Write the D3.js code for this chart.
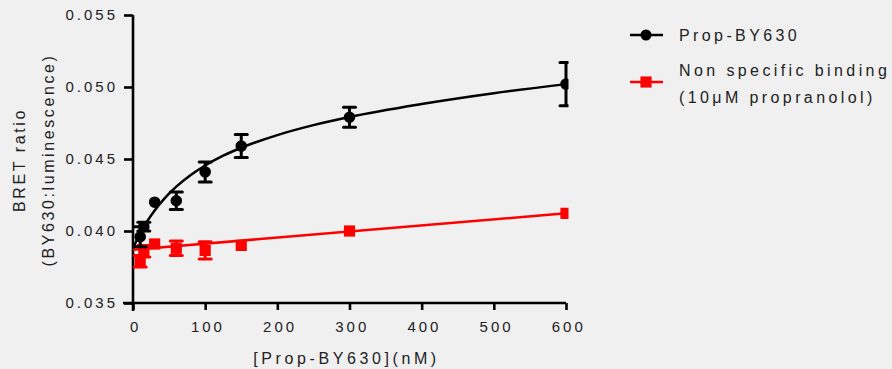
<!DOCTYPE html>
<html>
<head>
<meta charset="utf-8">
<script src="https://cdn.jsdelivr.net/npm/d3@7"></script>
<style>
  body { margin: 0; background: #f0f0f0; }
  svg { display: block; font-family: "Liberation Sans", Arial, sans-serif; }
</style>
</head>
<body>
<div id="chart-area"></div>
<script>
// concentrations (nM) and BRET ratios
var conc = [10, 15, 30, 60, 100, 150, 300, 600];
var totalMean = [0.0396, 0.0403, 0.0420, 0.0421, 0.0441, 0.0459, 0.0479, 0.0502];
var totalErr = [0.0007, 0.0003, 0, 0.0006, 0.0007, 0.0008, 0.0007, 0.0015];
var nsMean = [0.0379, 0.0386, 0.0391, 0.0388, 0.03865, 0.0390, 0.0400, 0.04123];
var nsErr = [0.0004, 0.0004, 0, 0.0005, 0.0006, 0, 0, 0];

// fitted curves as drawn
var fitX = [0, 5, 10, 20, 30, 45, 60, 80, 100, 125, 150, 200, 250, 300, 400, 500, 600];
var fitTotal = [0.0388, 0.03934, 0.03984, 0.0407, 0.04143, 0.04234, 0.04308, 0.04389, 0.04455,
  0.04523, 0.04578, 0.04666, 0.04735, 0.04792, 0.04882, 0.04957, 0.0502];
var fitNsX = [0, 600];
var fitNs = [0.0387, 0.04123];

var xTicks = [0, 100, 200, 300, 400, 500, 600];
var yTicks = [0.035, 0.040, 0.045, 0.050, 0.055];

var legendLabels = [["Prop-BY630"], ["Non specific binding", "(10\u03bcM propranolol)"]];

var W = 892, H = 369;
var margin = { left: 133, top: 15, right: 326, bottom: 66 };
var width = W - margin.left - margin.right,
    height = H - margin.top - margin.bottom;

var svg = d3.select("#chart-area").append("svg")
    .attr("width", W).attr("height", H);

svg.append("defs").append("clipPath").attr("id", "clip")
    .append("rect").attr("x", -10).attr("y", -15).attr("width", width + 12.5).attr("height", height + 30);

var g = svg.append("g")
    .attr("transform", "translate(" + margin.left + "," + margin.top + ")");

var x = d3.scaleLinear().domain([0, 600]).range([0, width]);
var y = d3.scaleLinear().domain([0.035, 0.055]).range([height, 0]);

var spacing = "3px";

// axes
var xAxis = g.append("g")
    .attr("transform", "translate(0," + height + ")")
    .call(d3.axisBottom(x).tickValues(xTicks).tickSize(7).tickPadding(11).tickFormat(d3.format("d")));
var yAxis = g.append("g")
    .call(d3.axisLeft(y).tickValues(yTicks).tickSize(9).tickPadding(6).tickFormat(d3.format(".3f")));

[xAxis, yAxis].forEach(function (a) {
    a.select(".domain").attr("stroke", "#000").attr("stroke-width", 2.6);
    a.selectAll(".tick line").attr("stroke", "#000").attr("stroke-width", 2.6);
    a.selectAll("text")
        .attr("fill", "#222")
        .attr("font-size", "15px")
        .style("letter-spacing", spacing);
});
xAxis.select(".domain").attr("d", "M-10,0H" + width);
yAxis.select(".domain").attr("d", "M0," + (height + 8) + "V0");
xAxis.selectAll("text").attr("dx", "0.15em");

// axis titles
g.append("text")
    .attr("x", width / 2 - 3).attr("y", height + 61)
    .attr("text-anchor", "middle")
    .attr("font-size", "16px").attr("fill", "#222")
    .style("letter-spacing", "3.6px")
    .text("[Prop-BY630](nM)");

var yl = g.append("text")
    .attr("transform", "translate(-108," + (height / 2 + 1) + ") rotate(-90)")
    .attr("text-anchor", "middle")
    .attr("font-size", "16px").attr("fill", "#222")
    .style("letter-spacing", "2.6px");
yl.append("tspan").attr("x", 0).attr("dy", 0).text("BRET ratio");
yl.append("tspan").attr("x", 0).attr("dy", 29).text("(BY630:luminescence)");

var plot = g.append("g").attr("clip-path", "url(#clip)");

var line = d3.line()
    .x(function (d) { return x(d[0]); })
    .y(function (d) { return y(d[1]); })
    .curve(d3.curveMonotoneX);

plot.append("path")
    .datum(fitNsX.map(function (v, i) { return [v, fitNs[i]]; }))
    .attr("d", line).attr("fill", "none").attr("stroke", "#ff0000").attr("stroke-width", 2.5);
plot.append("path")
    .datum(fitX.map(function (v, i) { return [v, fitTotal[i]]; }))
    .attr("d", line).attr("fill", "none").attr("stroke", "#000").attr("stroke-width", 2.5);

function drawSeries(mean, err, color, shape) {
    var pts = conc.map(function (c, i) { return { c: c, m: mean[i], e: err[i] }; });
    var eb = plot.append("g").selectAll("g").data(pts.filter(function (d) { return d.e > 0; }))
        .enter().append("g").attr("stroke", color).attr("stroke-width", 3);
    eb.append("line")
        .attr("x1", function (d) { return x(d.c); }).attr("x2", function (d) { return x(d.c); })
        .attr("y1", function (d) { return y(d.m - d.e); }).attr("y2", function (d) { return y(d.m + d.e); });
    [-1, 1].forEach(function (s) {
        eb.append("line")
            .attr("stroke-linecap", "round")
            .attr("x1", function (d) { return x(d.c) - 6; }).attr("x2", function (d) { return x(d.c) + 6; })
            .attr("y1", function (d) { return y(d.m + s * d.e); }).attr("y2", function (d) { return y(d.m + s * d.e); });
    });
    var sym = d3.symbol().type(shape).size(shape === d3.symbolCircle ? 105 : 125);
    plot.append("g").selectAll("path").data(pts).enter().append("path")
        .attr("transform", function (d) { return "translate(" + x(d.c) + "," + y(d.m) + ")"; })
        .attr("d", sym).attr("fill", color);
}
drawSeries(nsMean, nsErr, "#ff0000", d3.symbolSquare);
drawSeries(totalMean, totalErr, "#000", d3.symbolCircle);

// legend
var legendColors = ["#000", "#ff0000"];
var legendShapes = [d3.symbolCircle, d3.symbolSquare];
var legendY = [35, 82];
var lg = svg.append("g");
legendLabels.forEach(function (lab, i) {
    var row = lg.append("g").attr("transform", "translate(646," + legendY[i] + ")");
    row.append("line").attr("x1", -16).attr("x2", 17).attr("stroke", legendColors[i]).attr("stroke-width", 2.5);
    row.append("path").attr("d", d3.symbol().type(legendShapes[i]).size(i === 0 ? 95 : 125)()).attr("fill", legendColors[i]);
    var t = row.append("text").attr("x", 33).attr("font-size", "16px").attr("fill", "#222")
        .style("letter-spacing", "3.4px");
    if (lab.length === 1) {
        t.attr("y", 6).text(lab[0]);
    } else {
        t.append("tspan").attr("x", 33).attr("y", -6).text(lab[0]);
        t.append("tspan").attr("x", 33).attr("y", 21).text(lab[1]);
    }
});
</script>
</body>
</html>
